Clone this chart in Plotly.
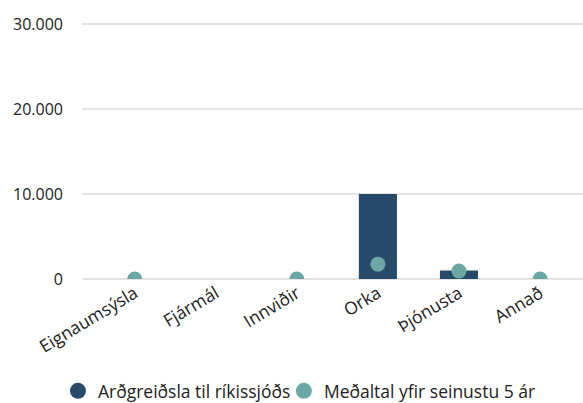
import plotly.graph_objects as go

categories = ["Eignaumsýsla", "Fjármál", "Innviðir", "Orka", "Þjónusta", "Annað"]
dividends = [0, 0, 0, 10000, 1000, 0]
avg_5yr = [0, None, 0, 1750, 950, 0]
y_ticks = [0, 10000, 20000, 30000]
y_labels = ["0", "10.000", "20.000", "30.000"]

BAR_COLOR = "#284a6a"
DOT_COLOR = "#6ba7a5"
FONT = "Open Sans"

fig = go.Figure()
fig.add_trace(go.Bar(
    x=categories, y=dividends, name="Arðgreiðsla til ríkissjóðs",
    marker=dict(color=BAR_COLOR, line=dict(width=0)),
    width=0.47, showlegend=False,
))
fig.add_trace(go.Scatter(
    x=categories, y=avg_5yr, mode="markers", name="Meðaltal yfir seinustu 5 ár",
    marker=dict(color=DOT_COLOR, size=15), showlegend=False,
))
# legend entries with round symbols, one legend per entry so each can be placed
fig.add_trace(go.Scatter(x=[None], y=[None], mode="markers", name="Arðgreiðsla til ríkissjóðs",
                         marker=dict(color=BAR_COLOR, size=18, symbol="circle"), legend="legend"))
fig.add_trace(go.Scatter(x=[None], y=[None], mode="markers", name="Meðaltal yfir seinustu 5 ár",
                         marker=dict(color=DOT_COLOR, size=18, symbol="circle"), legend="legend2"))

legend_style = dict(orientation="h", xanchor="left", y=-0.434, yanchor="middle",
                    font=dict(size=17.5), itemwidth=30, itemclick=False,
                    bgcolor="rgba(0,0,0,0)")

fig.update_layout(
    width=583, height=403,
    margin=dict(l=82, r=0, t=21, b=124, autoexpand=False),
    plot_bgcolor="white", paper_bgcolor="white",
    font=dict(family=FONT, size=16, color="#222222"),
    showlegend=True,
    legend=dict(x=-0.048, **legend_style),
    legend2=dict(x=0.403, **legend_style),
)
fig.update_xaxes(
    range=[-0.65, 5.53], tickangle=-31, showgrid=False, showline=False,
    ticks="", tickfont=dict(size=17.5),
)
fig.update_yaxes(
    range=[0, 30353], tickvals=y_ticks, ticktext=y_labels,
    showgrid=True, gridcolor="#e3e3e3", gridwidth=1.5,
    zeroline=True, zerolinecolor="#e3e3e3", zerolinewidth=1.5,
    ticks="", ticklabelstandoff=18, tickfont=dict(size=16),
)

# drop the browser's default body margin so the figure fills the window
fig.write_html("out.html", config={"displayModeBar": False},
               post_script="document.body.style.margin='0';")
